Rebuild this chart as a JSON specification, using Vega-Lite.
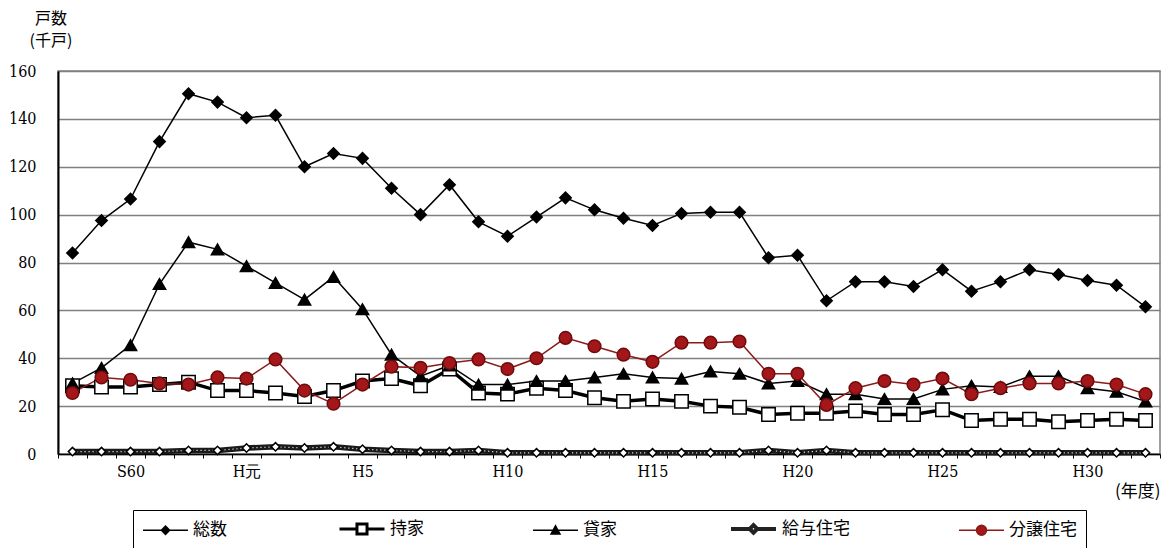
{
  "$schema": "https://vega.github.io/schema/vega-lite/v6.json",
  "width": 1102,
  "height": 383,
  "padding": {"left": 8, "top": 11, "right": 0, "bottom": 0},
  "background": "white",
  "title": {
    "text": "戸数",
    "subtitle": "(千戸)",
    "anchor": "start",
    "align": "center",
    "frame": "group",
    "dx": -7,
    "offset": 14,
    "font": "Noto Sans CJK JP",
    "fontSize": 16,
    "fontWeight": "normal",
    "color": "#000",
    "subtitleFont": "Noto Sans CJK JP",
    "subtitleFontSize": 16,
    "subtitleColor": "#000",
    "subtitlePadding": 6
  },
  "config": {
    "view": {"stroke": "#808080", "strokeWidth": 1.5},
    "legend": {
      "orient": "bottom",
      "direction": "horizontal",
      "layout": {"anchor": "middle"},
      "symbolSize": 225,
      "labelFont": "Noto Sans CJK JP",
      "labelFontSize": 17,
      "labelColor": "#000",
      "labelOffset": 34,
      "labelLimit": 200,
      "columnPadding": 106,
      "padding": 9,
      "strokeColor": "#000",
      "offset": 11
    }
  },
  "data": {
    "values": [
      {"year": "S58", "総数": 84, "持家": 28.5, "貸家": 29.5, "給与住宅": 1, "分譲住宅": 25.5},
      {"year": "S59", "総数": 97.5, "持家": 28, "貸家": 36, "給与住宅": 1, "分譲住宅": 32},
      {"year": "S60", "総数": 106.5, "持家": 28, "貸家": 45.5, "給与住宅": 1, "分譲住宅": 31},
      {"year": "S61", "総数": 130.5, "持家": 29, "貸家": 71, "給与住宅": 1, "分譲住宅": 29.5},
      {"year": "S62", "総数": 150.5, "持家": 30, "貸家": 88.5, "給与住宅": 1.5, "分譲住宅": 29},
      {"year": "S63", "総数": 147, "持家": 26.5, "貸家": 85.5, "給与住宅": 1.5, "分譲住宅": 32},
      {"year": "H元", "総数": 140.5, "持家": 26.5, "貸家": 78.5, "給与住宅": 2.5, "分譲住宅": 31.5},
      {"year": "H2", "総数": 141.5, "持家": 25.5, "貸家": 71.5, "給与住宅": 3, "分譲住宅": 39.5},
      {"year": "H3", "総数": 120, "持家": 24, "貸家": 64.5, "給与住宅": 2.5, "分譲住宅": 26.5},
      {"year": "H4", "総数": 125.5, "持家": 26.5, "貸家": 74, "給与住宅": 3, "分譲住宅": 21},
      {"year": "H5", "総数": 123.5, "持家": 30.5, "貸家": 60.5, "給与住宅": 2, "分譲住宅": 29},
      {"year": "H6", "総数": 111, "持家": 31.5, "貸家": 41.5, "給与住宅": 1.5, "分譲住宅": 36.5},
      {"year": "H7", "総数": 100, "持家": 28.5, "貸家": 32.5, "給与住宅": 1, "分譲住宅": 36},
      {"year": "H8", "総数": 112.5, "持家": 35.5, "貸家": 37, "給与住宅": 1, "分譲住宅": 38},
      {"year": "H9", "総数": 97, "持家": 25.5, "貸家": 29, "給与住宅": 1.5, "分譲住宅": 39.5},
      {"year": "H10", "総数": 91, "持家": 25, "貸家": 29, "給与住宅": 0.5, "分譲住宅": 35.5},
      {"year": "H11", "総数": 99, "持家": 27.5, "貸家": 30.5, "給与住宅": 0.5, "分譲住宅": 40},
      {"year": "H12", "総数": 107, "持家": 26.5, "貸家": 30.5, "給与住宅": 0.5, "分譲住宅": 48.5},
      {"year": "H13", "総数": 102, "持家": 23.5, "貸家": 32, "給与住宅": 0.5, "分譲住宅": 45},
      {"year": "H14", "総数": 98.5, "持家": 22, "貸家": 33.5, "給与住宅": 0.5, "分譲住宅": 41.5},
      {"year": "H15", "総数": 95.5, "持家": 23, "貸家": 32, "給与住宅": 0.5, "分譲住宅": 38.5},
      {"year": "H16", "総数": 100.5, "持家": 22, "貸家": 31.5, "給与住宅": 0.5, "分譲住宅": 46.5},
      {"year": "H17", "総数": 101, "持家": 20, "貸家": 34.5, "給与住宅": 0.5, "分譲住宅": 46.5},
      {"year": "H18", "総数": 101, "持家": 19.5, "貸家": 33.5, "給与住宅": 0.5, "分譲住宅": 47},
      {"year": "H19", "総数": 82, "持家": 16.5, "貸家": 29.5, "給与住宅": 1.5, "分譲住宅": 33.5},
      {"year": "H20", "総数": 83, "持家": 17, "貸家": 30.5, "給与住宅": 0.5, "分譲住宅": 33.5},
      {"year": "H21", "総数": 64, "持家": 17, "貸家": 25, "給与住宅": 1.5, "分譲住宅": 20.5},
      {"year": "H22", "総数": 72, "持家": 18, "貸家": 25, "給与住宅": 0.5, "分譲住宅": 27.5},
      {"year": "H23", "総数": 72, "持家": 16.5, "貸家": 23, "給与住宅": 0.5, "分譲住宅": 30.5},
      {"year": "H24", "総数": 70, "持家": 16.5, "貸家": 23, "給与住宅": 0.5, "分譲住宅": 29},
      {"year": "H25", "総数": 77, "持家": 18.5, "貸家": 27, "給与住宅": 0.5, "分譲住宅": 31.5},
      {"year": "H26", "総数": 68, "持家": 14, "貸家": 28.5, "給与住宅": 0.5, "分譲住宅": 25},
      {"year": "H27", "総数": 72, "持家": 14.5, "貸家": 28, "給与住宅": 0.5, "分譲住宅": 27.5},
      {"year": "H28", "総数": 77, "持家": 14.5, "貸家": 32.5, "給与住宅": 0.5, "分譲住宅": 29.5},
      {"year": "H29", "総数": 75, "持家": 13.5, "貸家": 32.5, "給与住宅": 0.5, "分譲住宅": 29.5},
      {"year": "H30", "総数": 72.5, "持家": 14, "貸家": 27.5, "給与住宅": 0.5, "分譲住宅": 30.5},
      {"year": "R1", "総数": 70.5, "持家": 14.5, "貸家": 26, "給与住宅": 0.5, "分譲住宅": 29},
      {"year": "R2", "総数": 61.5, "持家": 14, "貸家": 22, "給与住宅": 0.5, "分譲住宅": 25}
    ]
  },
  "transform": [
    {"fold": ["総数", "持家", "貸家", "給与住宅", "分譲住宅"], "as": ["series", "value"]}
  ],
  "encoding": {
    "x": {
      "field": "year",
      "type": "ordinal",
      "sort": null,
      "bandPosition": 0.5,
      "scale": {"type": "band", "paddingInner": 0, "paddingOuter": 0},
      "axis": {
        "title": "(年度)",
        "titleAnchor": "end",
        "titleFont": "Noto Sans CJK JP",
        "titleFontSize": 17,
        "titleFontWeight": "normal",
        "titleColor": "#000",
        "titlePadding": 4,
        "labelExpr": "indexof(['S60','H元','H5','H10','H15','H20','H25','H30'], datum.value) >= 0 ? datum.value : ''",
        "labelAngle": 0,
        "labelOverlap": false,
        "labelFont": "DejaVu Serif Condensed",
        "labelFontSize": 16,
        "labelColor": "#000",
        "labelPadding": 5,
        "tickBand": "extent",
        "tickSize": 4,
        "tickColor": "#000",
        "domainColor": "#000",
        "domainWidth": 1.5,
        "grid": false
      }
    },
    "y": {
      "field": "value",
      "type": "quantitative",
      "scale": {"domain": [0, 160], "nice": false},
      "axis": {
        "values": [0, 20, 40, 60, 80, 100, 120, 140, 160],
        "title": null,
        "labelFont": "DejaVu Serif Condensed",
        "labelFontSize": 16,
        "labelColor": "#000",
        "labelPadding": 22,
        "ticks": false,
        "domainColor": "#000",
        "domainWidth": 2,
        "gridColor": "#808080",
        "gridWidth": 1.3
      }
    }
  },
  "layer": [
    {
      "mark": {"type": "line"},
      "encoding": {
        "stroke": {
          "field": "series",
          "type": "nominal",
          "scale": {
            "domain": ["総数", "持家", "貸家", "給与住宅", "分譲住宅"],
            "range": ["#000000", "#000000", "#000000", "#1a1a1a", "#8b1a1a"]
          },
          "legend": null
        },
        "strokeWidth": {
          "field": "series",
          "type": "nominal",
          "scale": {
            "type": "ordinal",
            "domain": ["総数", "持家", "貸家", "給与住宅", "分譲住宅"],
            "range": [1.5, 3.5, 1.5, 5.5, 1.5]
          },
          "legend": null
        }
      }
    },
    {
      "transform": [{"filter": "datum.series === '給与住宅'"}],
      "mark": {"type": "line", "stroke": "#dddddd", "strokeWidth": 1.2, "strokeDash": [1.2, 2.8]},
      "encoding": {}
    },
    {
      "mark": {"type": "point", "opacity": 1, "fillOpacity": 1, "strokeWidth": 1.5},
      "encoding": {
        "shape": {
          "field": "series",
          "type": "nominal",
          "scale": {
            "domain": ["総数", "持家", "貸家", "給与住宅", "分譲住宅"],
            "range": ["diamond", "square", "triangle-up", "diamond", "circle"]
          },
          "legend": null
        },
        "fill": {
          "field": "series",
          "type": "nominal",
          "scale": {
            "domain": ["総数", "持家", "貸家", "給与住宅", "分譲住宅"],
            "range": ["#000000", "#ffffff", "#000000", "#ffffff", "#a3161a"]
          },
          "legend": null
        },
        "stroke": {
          "field": "series",
          "type": "nominal",
          "scale": {
            "domain": ["総数", "持家", "貸家", "給与住宅", "分譲住宅"],
            "range": ["#000000", "#000000", "#000000", "#000000", "#6e0b0b"]
          },
          "legend": null
        },
        "size": {
          "field": "series",
          "type": "nominal",
          "scale": {
            "type": "ordinal",
            "domain": ["総数", "持家", "貸家", "給与住宅", "分譲住宅"],
            "range": [130, 180, 150, 70, 160]
          },
          "legend": null
        }
      }
    },
    {
      "transform": [{"filter": "false"}],
      "mark": {"type": "point", "opacity": 1, "fillOpacity": 1},
      "encoding": {
        "shape": {
          "field": "series",
          "type": "nominal",
          "scale": {
            "domain": ["総数", "持家", "貸家", "給与住宅", "分譲住宅"],
            "range": [
              "M-1,0H5M2,-0.55L2.55,0L2,0.55L1.45,0Z",
              "M-1,0H1.33M2.67,0H5M1.33,-0.67H2.67V0.67H1.33Z",
              "M-1,0H5M1.4,0.5L2,-0.6L2.6,0.5Z",
              "M-1,0H1.5M2.5,0H5M2,-0.5L2.5,0L2,0.5L1.5,0Z",
              "M-1,0H1.33M2.67,0H5M1.33,0A0.67,0.67,0,1,0,2.67,0A0.67,0.67,0,1,0,1.33,0Z"
            ]
          },
          "legend": {"title": null}
        },
        "fill": {
          "field": "series",
          "type": "nominal",
          "scale": {
            "domain": ["総数", "持家", "貸家", "給与住宅", "分譲住宅"],
            "range": ["#000000", "#ffffff", "#000000", "#ffffff", "#a3161a"]
          },
          "legend": {"title": null}
        },
        "stroke": {
          "field": "series",
          "type": "nominal",
          "scale": {
            "domain": ["総数", "持家", "貸家", "給与住宅", "分譲住宅"],
            "range": ["#000000", "#000000", "#000000", "#222222", "#8b1a1a"]
          },
          "legend": {"title": null}
        },
        "strokeWidth": {
          "field": "series",
          "type": "nominal",
          "scale": {
            "type": "ordinal",
            "domain": ["総数", "持家", "貸家", "給与住宅", "分譲住宅"],
            "range": [1.5, 3, 1.5, 4, 1.5]
          },
          "legend": {"title": null}
        }
      }
    }
  ],
  "resolve": {
    "scale": {"shape": "independent", "fill": "independent", "stroke": "independent", "strokeWidth": "independent"}
  }
}
